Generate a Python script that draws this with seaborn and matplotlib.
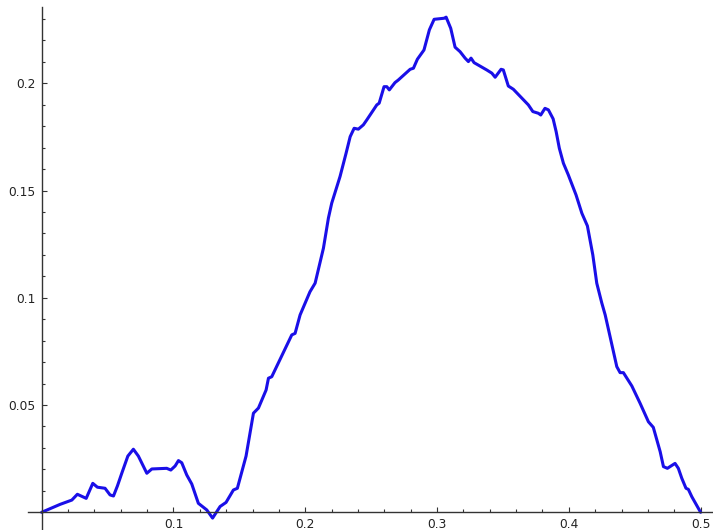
import matplotlib
matplotlib.use("Agg")
import matplotlib.pyplot as plt
import seaborn as sns
import pandas as pd
from matplotlib.ticker import FixedLocator

sns.set_style("white")
plt.rcParams['font.family'] = ['DejaVu Sans']

x_vals = [0, 0.0140, 0.0229, 0.0271, 0.0338, 0.0388, 0.0423, 0.0481, 0.0519, 0.0545,
          0.0575, 0.0608, 0.0654, 0.0696, 0.0734, 0.0798, 0.0836, 0.0949, 0.0980, 0.1013,
          0.1038, 0.1063, 0.1101, 0.1139, 0.1189, 0.1253, 0.1297, 0.1354, 0.1399, 0.1455,
          0.1485, 0.1551, 0.1607, 0.1645, 0.1703, 0.1721, 0.1746, 0.1898, 0.1923, 0.1961,
          0.2036, 0.2075, 0.2138, 0.2176, 0.2201, 0.2264, 0.2310, 0.2341, 0.2371, 0.2403,
          0.2441, 0.2467, 0.2543, 0.2561, 0.2598, 0.2619, 0.2638, 0.2681, 0.2706, 0.2796,
          0.2821, 0.2851, 0.2901, 0.2942, 0.2978, 0.3054, 0.3069, 0.3104, 0.3137, 0.3175,
          0.3213, 0.3238, 0.3258, 0.3281, 0.3377, 0.3416, 0.3441, 0.3486, 0.3503, 0.3541,
          0.3579, 0.3693, 0.3727, 0.3769, 0.3787, 0.3819, 0.3845, 0.3881, 0.3904, 0.3928,
          0.3959, 0.3996, 0.4055, 0.4099, 0.4141, 0.4182, 0.4212, 0.4250, 0.4276, 0.4313,
          0.4364, 0.4389, 0.4414, 0.4478, 0.4541, 0.4604, 0.4641, 0.4693, 0.4718, 0.4748,
          0.4806, 0.4831, 0.4857, 0.4889, 0.4907, 0.4933, 0.5]

y_vals = [0, 0.0037, 0.0057, 0.0084, 0.0065, 0.0135, 0.0117, 0.0112, 0.0081, 0.0076,
          0.0123, 0.0182, 0.0262, 0.0294, 0.0262, 0.0182, 0.0202, 0.0205, 0.0197, 0.0216,
          0.0241, 0.0231, 0.0174, 0.0132, 0.0042, 0.0011, -0.0027, 0.0027, 0.0046, 0.0104,
          0.0112, 0.0262, 0.0462, 0.0486, 0.0570, 0.0625, 0.0632, 0.0827, 0.0834, 0.0920,
          0.1028, 0.1068, 0.1231, 0.1372, 0.1441, 0.1565, 0.1674, 0.1751, 0.1790, 0.1786,
          0.1806, 0.1829, 0.1899, 0.1907, 0.1984, 0.1984, 0.1969, 0.2003, 0.2015, 0.2065,
          0.2070, 0.2112, 0.2155, 0.2249, 0.2298, 0.2303, 0.2308, 0.2256, 0.2168, 0.2147,
          0.2117, 0.2101, 0.2117, 0.2096, 0.2062, 0.2047, 0.2028, 0.2065, 0.2062, 0.1987,
          0.1972, 0.1899, 0.1868, 0.1860, 0.1852, 0.1883, 0.1876, 0.1834, 0.1774, 0.1697,
          0.1627, 0.1573, 0.1479, 0.1394, 0.1335, 0.1200, 0.1068, 0.0976, 0.0920, 0.0819,
          0.0679, 0.0651, 0.0651, 0.0589, 0.0508, 0.0422, 0.0396, 0.0283, 0.0213, 0.0205,
          0.0228, 0.0205, 0.0159, 0.0112, 0.0107, 0.0073, 0]

x_ticks = [0.1, 0.2, 0.3, 0.4, 0.5]
x_labels = ["0.1", "0.2", "0.3", "0.4", "0.5"]
y_ticks = [0.05, 0.1, 0.15, 0.2]
y_labels = ["0.05", "0.1", "0.15", "0.2"]

df = pd.DataFrame({"x": x_vals, "y": y_vals})

fig = plt.figure(figsize=(7.13, 5.30), dpi=100)
ax = fig.add_axes([0, 0, 1, 1])
ax.patch.set_alpha(0)

sns.lineplot(data=df, x="x", y="y", ax=ax, color="#1a0fe8", linewidth=2.2,
             sort=False, estimator=None)

ax.set_xlim(-0.0316, 0.5094)
ax.set_ylim(-0.00825, 0.2388)

for s in ["top", "right"]:
    ax.spines[s].set_visible(False)
ax.spines["left"].set_position(("data", 0))
ax.spines["bottom"].set_position(("data", 0))
ax.spines["left"].set_bounds(-0.0083, 0.2356)
ax.spines["bottom"].set_bounds(-0.0101, 0.5094)
for s in ["left", "bottom"]:
    ax.spines[s].set_color("#333333")
    ax.spines[s].set_linewidth(1.0)

ax.xaxis.set_major_locator(FixedLocator(x_ticks))
ax.set_xticklabels(x_labels)
ax.yaxis.set_major_locator(FixedLocator(y_ticks))
ax.set_yticklabels(y_labels)
ax.xaxis.set_minor_locator(FixedLocator([0.02, 0.04, 0.06, 0.08, 0.12, 0.14, 0.16, 0.18,
                                         0.22, 0.24, 0.26, 0.28, 0.32, 0.34, 0.36, 0.38,
                                         0.42, 0.44, 0.46, 0.48]))
ax.yaxis.set_minor_locator(FixedLocator([0.01, 0.02, 0.03, 0.04, 0.06, 0.07, 0.08, 0.09,
                                         0.11, 0.12, 0.13, 0.14, 0.16, 0.17, 0.18, 0.19,
                                         0.21, 0.22, 0.23]))

ax.tick_params(axis="both", which="major", direction="in", length=3.6, width=0.8,
               color="#333333", labelsize=8.8, labelcolor="#222222")
ax.tick_params(axis="both", which="minor", direction="in", length=2.2, width=0.8,
               color="#333333")
ax.tick_params(axis="y", which="major", pad=4.2)
ax.tick_params(axis="x", which="major", pad=4)
ax.tick_params(axis="both", which="both", bottom=True, left=True, top=False, right=False)

ax.set_xlabel("")
ax.set_ylabel("")
ax.grid(False)

fig.savefig("out.png", dpi=100)
